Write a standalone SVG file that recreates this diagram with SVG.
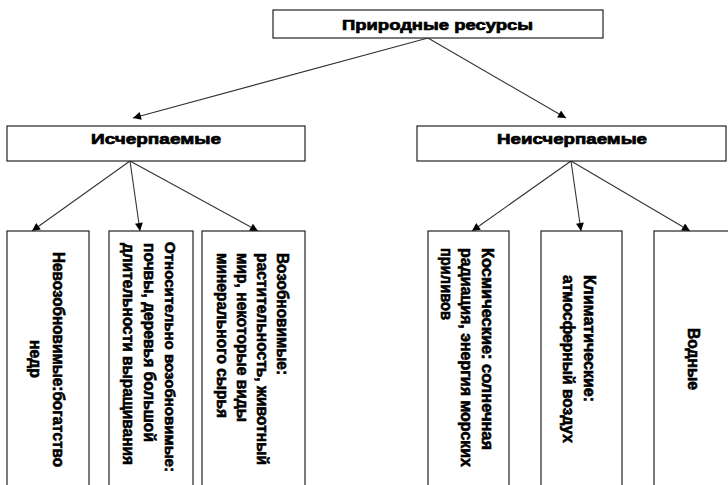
<svg xmlns="http://www.w3.org/2000/svg" width="728" height="485" viewBox="0 0 728 485">
<defs>
<marker id="ah" viewBox="0 0 10 10" refX="10" refY="5" markerWidth="9" markerHeight="8" markerUnits="userSpaceOnUse" orient="auto">
<path d="M0,0 L10,5 L0,10 z" fill="#000"/>
</marker>
<style>
.box{fill:#fff;stroke:#222;stroke-width:1.2}
.t{font-family:"Liberation Sans",Arial,sans-serif;font-weight:bold;font-size:15px;fill:#000;stroke:#000;stroke-width:0.7}
.v{font-family:"Liberation Sans",Arial,sans-serif;font-weight:bold;font-size:16px;fill:#000;stroke:#000;stroke-width:0.6}
.c{stroke:#333;stroke-width:1.1;fill:none;marker-end:url(#ah)}
</style>
</defs>
<rect width="728" height="485" fill="#fff"/>
<g id="connectors">
<line class="c" x1="428" y1="38" x2="133" y2="118"/>
<line class="c" x1="428" y1="38" x2="566" y2="118"/>
<line class="c" x1="130" y1="161" x2="32" y2="231"/>
<line class="c" x1="130" y1="161" x2="140" y2="231"/>
<line class="c" x1="130" y1="161" x2="258" y2="231"/>
<line class="c" x1="571" y1="161" x2="472" y2="231"/>
<line class="c" x1="571" y1="161" x2="581" y2="231"/>
<line class="c" x1="571" y1="161" x2="690" y2="231"/>
</g>
<g id="root">
<rect class="box" x="273" y="10" width="330" height="28"/>
<text class="t" x="437.5" y="30" text-anchor="middle" textLength="191" lengthAdjust="spacingAndGlyphs">Природные ресурсы</text>
</g>
<g id="exhaustible">
<rect class="box" x="7" y="126" width="298" height="35"/>
<text class="t" x="156" y="144" text-anchor="middle" textLength="130" lengthAdjust="spacingAndGlyphs">Исчерпаемые</text>
</g>
<g id="inexhaustible">
<rect class="box" x="417" y="126" width="309" height="35"/>
<text class="t" x="572" y="144" text-anchor="middle" textLength="150" lengthAdjust="spacingAndGlyphs">Неисчерпаемые</text>
</g>
<g id="nonrenewable">
<rect class="box" x="7" y="231" width="82" height="270"/>
<text class="v" transform="translate(53,252) rotate(90)" textLength="215" lengthAdjust="spacingAndGlyphs">Невозобновимые:богатство</text>
<text class="v" transform="translate(30,340) rotate(90)" textLength="38" lengthAdjust="spacingAndGlyphs">недр</text>
</g>
<g id="relatively-renewable">
<rect class="box" x="109" y="231" width="84" height="270"/>
<text class="v" style="font-size:14.5px" transform="translate(165,242) rotate(90)" textLength="230" lengthAdjust="spacingAndGlyphs">Относительно возобновимые:</text>
<text class="v" transform="translate(144,243) rotate(90)" textLength="199" lengthAdjust="spacingAndGlyphs">почвы, деревья большой</text>
<text class="v" transform="translate(123,243) rotate(90)" textLength="222" lengthAdjust="spacingAndGlyphs">длительности выращивания</text>
</g>
<g id="renewable">
<rect class="box" x="202" y="231" width="103" height="270"/>
<text class="v" transform="translate(277,253) rotate(90)" textLength="122" lengthAdjust="spacingAndGlyphs">Возобновимые:</text>
<text class="v" transform="translate(257,253) rotate(90)" textLength="212" lengthAdjust="spacingAndGlyphs">растительность, животный</text>
<text class="v" transform="translate(237,253) rotate(90)" textLength="169" lengthAdjust="spacingAndGlyphs">мир, некоторые виды</text>
<text class="v" transform="translate(217,253) rotate(90)" textLength="165" lengthAdjust="spacingAndGlyphs">минерального сырья</text>
</g>
<g id="cosmic">
<rect class="box" x="428" y="231" width="81" height="270"/>
<text class="v" transform="translate(482,248) rotate(90)" textLength="202" lengthAdjust="spacingAndGlyphs">Космические: солнечная</text>
<text class="v" transform="translate(461,248) rotate(90)" textLength="219" lengthAdjust="spacingAndGlyphs">радиация, энергия морских</text>
<text class="v" transform="translate(441,248) rotate(90)" textLength="72" lengthAdjust="spacingAndGlyphs">приливов</text>
</g>
<g id="climatic">
<rect class="box" x="541" y="231" width="81" height="270"/>
<text class="v" transform="translate(584,275) rotate(90)" textLength="127" lengthAdjust="spacingAndGlyphs">Климатические:</text>
<text class="v" transform="translate(563,275) rotate(90)" textLength="168" lengthAdjust="spacingAndGlyphs">атмосферный воздух</text>
</g>
<g id="water">
<rect class="box" x="654" y="231" width="84" height="270"/>
<text class="v" transform="translate(688,328) rotate(90)" textLength="62" lengthAdjust="spacingAndGlyphs">Водные</text>
</g>
</svg>
